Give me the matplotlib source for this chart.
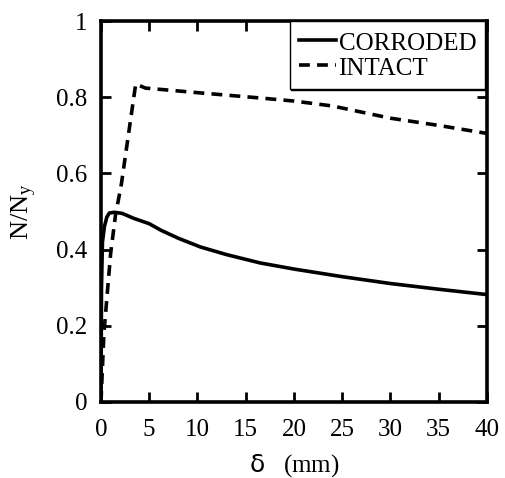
import matplotlib
matplotlib.use("Agg")
import matplotlib.pyplot as plt

plt.rcParams['font.family'] = ['Liberation Serif', 'DejaVu Serif']
plt.rcParams['mathtext.fontset'] = 'custom'
plt.rcParams['mathtext.rm'] = 'Liberation Serif'
plt.rcParams['mathtext.it'] = 'Liberation Serif:italic'
plt.rcParams['mathtext.sf'] = 'DejaVu Sans'

corroded_x = [0, 0.05, 0.15, 0.35, 0.6, 0.86, 1.4, 2.2, 3.4, 5.0, 6.2, 8.0, 10.3, 13.0, 16.5, 20, 25, 30, 35, 40]
corroded_y = [0, 0.30, 0.42, 0.46, 0.485, 0.496, 0.498, 0.495, 0.482, 0.468, 0.451, 0.43, 0.407, 0.387, 0.365, 0.349, 0.329, 0.311, 0.296, 0.282]

intact_x = [0, 0.3, 1.0, 1.5, 2.1, 3.6, 4.6, 10, 16.5, 20, 24, 30, 35, 40]
intact_y = [0, 0.18, 0.39, 0.49, 0.57, 0.835, 0.824, 0.812, 0.798, 0.79, 0.777, 0.745, 0.726, 0.705]

x_ticks = [0, 5, 10, 15, 20, 25, 30, 35, 40]
y_ticks = [0, 0.2, 0.4, 0.6, 0.8, 1]
y_tick_labels = ['0', '0.2', '0.4', '0.6', '0.8', '1']

fig = plt.figure(figsize=(5.05, 4.78), dpi=100)
ax = fig.add_axes([0.2, 0.159, 0.764, 0.797])

ax.plot(corroded_x, corroded_y, color='black', lw=2.6, label='CORRODED')
ax.plot(intact_x, intact_y, color='black', lw=2.6, ls=(0, (3.0, 2.0)), label='INTACT')

ax.set_xlim(0, 40)
ax.set_ylim(0, 1)
ax.set_xticks(x_ticks)
ax.set_yticks(y_ticks)
ax.set_yticklabels(y_tick_labels)
ax.tick_params(direction='in', top=True, right=True, labelsize=18, width=2, length=7)
ax.tick_params(axis='x', pad=12)
ax.tick_params(axis='y', pad=10)
for s in ax.spines.values():
    s.set_linewidth(2.6)

ax.set_xlabel(r'$\mathsf{\delta}$   (mm)', fontsize=18, labelpad=8)
ax.set_ylabel(r'N/N$_{\rm y}$', fontsize=19, labelpad=12)

leg = ax.legend(loc='upper right', fontsize=18, frameon=True, fancybox=False,
                bbox_to_anchor=(0.995, 1.0),
                borderaxespad=0, handlelength=1.5, handletextpad=0.1,
                handleheight=1.05, borderpad=0.35, labelspacing=0.0, framealpha=1,
                shadow={'color': 'black', 'alpha': 1, 'ox': 1.2, 'oy': -1.2})
leg.get_frame().set_edgecolor('black')
leg.get_frame().set_linewidth(1.0)

fig.savefig('out.png', dpi=100)
